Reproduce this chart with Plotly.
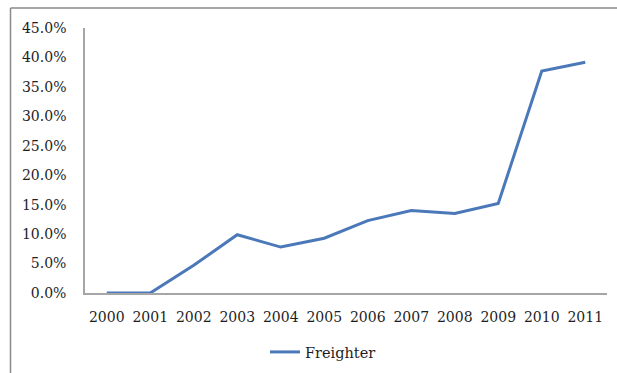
import plotly.graph_objects as go

years = ["2000", "2001", "2002", "2003", "2004", "2005",
         "2006", "2007", "2008", "2009", "2010", "2011"]
freighter = [0.0, 0.0, 0.047, 0.099, 0.078, 0.093,
             0.123, 0.140, 0.135, 0.152, 0.377, 0.392]
y_ticks = [0.0, 0.05, 0.10, 0.15, 0.20, 0.25, 0.30, 0.35, 0.40, 0.45]

W, H = 617, 373
L, R, T, B = 85, 10, 28, 80
pw, ph = W - L - R, H - T - B

fig = go.Figure()
fig.add_trace(go.Scatter(
    x=years, y=freighter, mode="lines", name="Freighter",
    line=dict(color="#4a78b8", width=3),
))

font = dict(family="DejaVu Serif", size=14, color="#1e1e1e")

# outer frame (left and top edges of the chart area)
fx0 = (10.5 - L) / pw
fx1 = (W + 5 - L) / pw
fy1 = 1 + (T - 8) / ph
fy0 = -(H + 5 - T - ph) / ph
fig.add_shape(type="line", xref="paper", yref="paper",
              x0=fx0, x1=fx1, y0=fy1, y1=fy1,
              line=dict(color="#8a8a8a", width=1.5))
fig.add_shape(type="line", xref="paper", yref="paper",
              x0=fx0, x1=fx0, y0=fy0, y1=fy1,
              line=dict(color="#8a8a8a", width=1.5))

fig.update_layout(
    width=W, height=H,
    margin=dict(l=L, r=R, t=T, b=B, autoexpand=False),
    paper_bgcolor="white", plot_bgcolor="white",
    font=font,
    showlegend=True,
    legend=dict(orientation="h", x=(323 - L) / pw, xanchor="center",
                y=-(352 - T - ph) / ph, yanchor="middle",
                font=dict(family="DejaVu Serif", size=14.5, color="#1e1e1e"),
                itemwidth=30),
    xaxis=dict(type="category", showgrid=False, showline=True,
               linecolor="#a6a6a6", linewidth=1.5, ticks="",
               ticklabelstandoff=10, tickfont=font, range=[-0.5, 11.5],
               automargin=False),
    yaxis=dict(range=[0, 0.45], tickvals=y_ticks, tickformat=".1%",
               showgrid=False, showline=True, linecolor="#a6a6a6",
               linewidth=1.5, ticks="", ticklabelstandoff=14,
               tickfont=font, zeroline=False, automargin=False),
)

fig.write_html("out.html")
